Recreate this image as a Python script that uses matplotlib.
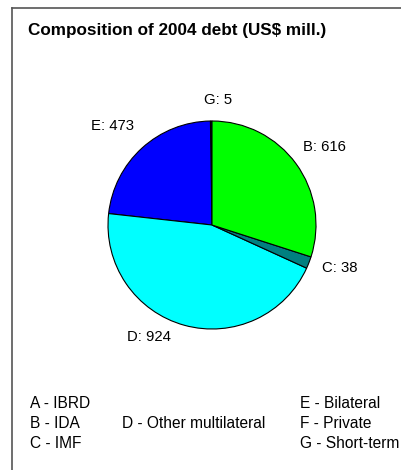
import matplotlib.pyplot as plt
from matplotlib.lines import Line2D

plt.rcParams['font.family'] = ['Liberation Sans', 'DejaVu Sans']

# slices, counterclockwise from the top
letters = ['G', 'E', 'D', 'C', 'B']
values = [5, 473, 924, 38, 616]
colors = ['#000080', '#0000ff', '#00ffff', '#008080', '#00ff00']

legend_cols = [
    ['A - IBRD', 'B - IDA', 'C - IMF'],
    ['', 'D - Other multilateral', ''],
    ['E - Bilateral', 'F - Private', 'G - Short-term'],
]

fig = plt.figure(figsize=(4.02, 4.70), dpi=100)
W, H = 402, 470

# frame lines (top and left only)
fig.add_artist(Line2D([12 / W, 1], [1 - 7.5 / H, 1 - 7.5 / H], color='#555555', lw=1.2))
fig.add_artist(Line2D([12.5 / W, 12.5 / W], [0, 1 - 7.5 / H], color='#555555', lw=1.2))

fig.text(28 / W, 1 - 31 / H, 'Composition of 2004 debt (US$ mill.)',
         fontsize=12.3, fontweight='bold', va='center', ha='left')

# pie axes: center (212, 225), radius ~104 px
r = 104
ax = fig.add_axes([(212 - r) / W, 1 - (225 + r) / H, 2 * r / W, 2 * r / H])
labels = [f'{l}: {v}' for l, v in zip(letters, values)]
wedges, texts = ax.pie(values, colors=colors, startangle=90, counterclock=True,
                       labels=labels, labeldistance=1.2,
                       wedgeprops=dict(edgecolor='black', linewidth=0.8),
                       textprops=dict(fontsize=10.7))
# label placement as in the original (in pie radius units)
label_xy = [(0.06, 1.20), (-0.96, 0.95), (-0.61, -1.08), (1.23, -0.41), (1.08, 0.75)]
for t, (x, y) in zip(texts, label_xy):
    t.set_position((x, y))
    t.set_ha('center')
    t.set_va('center')
ax.set_xlim(-1, 1)
ax.set_ylim(-1, 1)
ax.set_aspect('equal')

xs = [30, 122, 300]
ys = [404, 424, 443]
for x, col in zip(xs, legend_cols):
    for y, t in zip(ys, col):
        if t:
            fig.text(x / W, 1 - y / H, t, fontsize=11.2, va='center', ha='left')

fig.savefig('out.png', dpi=100)
